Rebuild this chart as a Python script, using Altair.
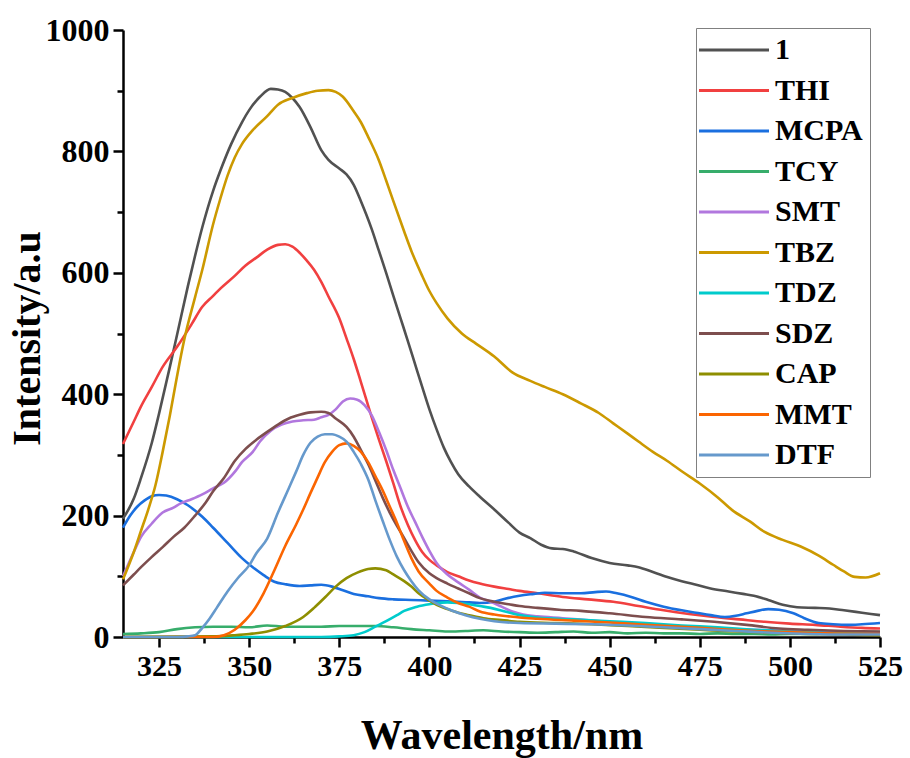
import altair as alt
import pandas as pd

SERIES = ["1", "THI", "MCPA", "TCY", "SMT", "TBZ", "TDZ", "SDZ", "CAP", "MMT", "DTF"]
COLORS = ["#515151", "#F14040", "#1A6FDF", "#37AD6B", "#B177DE", "#CC9900",
          "#00CBCC", "#7D4E4E", "#8E8E00", "#FB6501", "#6699CC"]

S1_X = [315, 318, 320, 323, 325, 328, 330, 333, 335, 337, 340, 342, 345, 348, 350, 353, 356, 358, 360, 362, 364, 367, 370, 372, 375, 377, 379, 381, 384, 386, 388, 390, 392, 394, 396, 398, 400, 402, 404, 406, 408, 411, 414, 418, 422, 425, 428, 431, 434, 437, 440, 445, 450, 455, 458, 462, 466, 470, 474, 478, 483, 487, 490, 494, 498, 502, 507, 511, 515, 520, 525]
S1_Y = [195, 228, 262, 320, 368, 445, 498, 578, 628, 675, 735, 768, 812, 848, 868, 890, 903, 902, 898, 888, 873, 840, 802, 786, 772, 762, 745, 718, 672, 636, 600, 562, 525, 488, 450, 412, 375, 342, 312, 288, 268, 248, 231, 210, 188, 172, 163, 152, 146, 145, 141, 130, 122, 118, 115, 107, 99, 92, 86, 80, 75, 71, 68, 61, 53, 49, 48, 47, 44, 40, 36]

THI_X = [315, 318, 320, 323, 326, 330, 334, 337, 340, 342, 346, 349, 352, 355, 358, 360, 362, 364, 366, 368, 370, 372, 375, 377, 379, 381, 384, 386, 388, 390, 392, 394, 396, 398, 400, 402, 405, 408, 411, 414, 418, 422, 425, 430, 437, 444, 451, 458, 465, 472, 479, 486, 493, 500, 507, 514, 520, 525]
THI_Y = [318, 355, 380, 412, 445, 478, 515, 544, 562, 574, 595, 612, 625, 638, 646, 647, 643, 633, 620, 605, 585, 561, 525, 492, 458, 420, 362, 325, 290, 253, 215, 185, 160, 140, 127, 118, 107, 100, 93, 88, 83, 79, 76, 72, 66, 62, 58, 51, 44, 38, 33, 29, 25, 22, 20, 17, 15, 14]

MCPA_X = [315, 317, 319, 321, 323, 325, 327, 330, 333, 337, 340, 344, 348, 351, 354, 357, 360, 364, 367, 370, 373, 376, 379, 383, 386, 390, 395, 400, 405, 411, 414, 418, 421, 425, 429, 432, 437, 442, 446, 449, 452, 456, 460, 465, 470, 474, 478, 482, 485, 488, 491, 494, 497, 501, 504, 508, 512, 516, 520, 525]
MCPA_Y = [180, 200, 215, 225, 232, 234, 233, 227, 217, 198, 180, 155, 130, 115, 102, 91, 87, 84, 85, 86, 83, 77, 71, 67, 64, 62, 61, 60, 59, 57, 56, 58, 63, 68, 71, 73, 72, 72, 74, 75, 72, 66, 58, 50, 44, 40, 36, 33, 35, 39, 43, 46, 45, 39, 31, 23, 21, 20, 21, 23]

TCY_X = [315, 320, 325, 330, 335, 340, 345, 350, 355, 360, 365, 370, 375, 380, 385, 390, 395, 400, 405, 410, 415, 420, 425, 430, 435, 440, 445, 450, 455, 460, 465, 470, 475, 480, 485, 490, 495, 500, 505, 510, 515, 520, 525]
TCY_Y = [5, 6, 8, 13, 16, 17, 17, 16, 19, 17, 17, 17, 18, 18, 18, 16, 13, 11, 9, 10, 11, 9, 8, 7, 8, 9, 7, 8, 6, 7, 6, 6, 5, 6, 5, 5, 4, 5, 5, 6, 7, 8, 8]

SMT_X = [315, 318, 320, 323, 326, 329, 331, 334, 337, 340, 343, 346, 348, 351, 353, 356, 359, 362, 365, 368, 370, 372, 374, 376, 378, 380, 382, 384, 386, 388, 390, 392, 394, 396, 398, 400, 402, 405, 408, 411, 414, 417, 420, 423, 426, 430, 437, 445, 452, 460, 470, 480, 490, 500, 510, 525]
SMT_Y = [100, 140, 165, 187, 205, 213, 220, 227, 235, 245, 254, 272, 288, 305, 322, 340, 350, 355, 357, 358, 362, 366, 375, 388, 393, 391, 382, 365, 338, 308, 275, 245, 215, 190, 165, 142, 122, 103, 90, 78, 65, 58, 50, 42, 37, 34, 31, 27, 24, 21, 17, 14, 12, 10, 8, 6]

TBZ_X = [315, 318, 320, 322, 324, 326, 328, 330, 332, 335, 337, 340, 342, 344, 346, 348, 351, 355, 358, 362, 366, 369, 372, 374, 376, 379, 381, 383, 386, 388, 390, 393, 395, 398, 400, 402, 405, 409, 413, 418, 423, 428, 432, 437, 442, 447, 451, 455, 458, 462, 466, 470, 475, 480, 484, 489, 493, 498, 503, 508, 512, 515, 518, 521, 525]
TBZ_Y = [95, 140, 175, 210, 250, 305, 365, 430, 490, 560, 605, 680, 722, 760, 790, 812, 835, 858, 877, 888, 896, 900, 901, 898, 890, 866, 848, 824, 785, 752, 718, 668, 636, 595, 570, 550, 525, 500, 483, 462, 436, 422, 412, 400, 385, 369, 352, 335, 322, 305, 290, 273, 253, 230, 209, 190, 173, 160, 149, 134, 119, 108, 99, 98, 105]

TDZ_X = [315, 370, 375, 379, 382, 385, 388, 391, 393, 396, 399, 402, 405, 408, 411, 414, 417, 421, 425, 430, 440, 450, 460, 470, 480, 490, 500, 510, 525]
TDZ_Y = [0, 0, 1, 3, 8, 17, 26, 36, 43, 49, 53, 56, 57, 56, 54, 51, 48, 42, 36, 32, 29, 26, 23, 19, 16, 12, 9, 7, 5]

SDZ_X = [315, 318, 320, 323, 326, 329, 332, 335, 338, 340, 343, 346, 349, 352, 355, 358, 361, 364, 367, 370, 372, 374, 377, 379, 381, 383, 385, 387, 389, 391, 393, 395, 397, 400, 402, 405, 408, 411, 414, 418, 422, 425, 430, 436, 442, 450, 460, 470, 479, 488, 497, 505, 515, 525]
SDZ_Y = [85, 103, 115, 132, 148, 165, 180, 200, 222, 240, 262, 290, 310, 325, 338, 350, 360, 366, 370, 371, 369, 360, 346, 330, 308, 285, 258, 230, 205, 183, 163, 142, 123, 105, 97, 88, 80, 72, 64, 58, 54, 51, 48, 45, 43, 39, 33, 29, 25, 20, 14, 12, 10, 9]

CAP_X = [315, 340, 346, 350, 355, 360, 365, 368, 371, 374, 377, 380, 383, 385, 388, 390, 393, 395, 397, 400, 402, 405, 408, 411, 415, 420, 425, 435, 445, 455, 465, 475, 485, 495, 505, 515, 525]
CAP_Y = [0, 1, 3, 5, 9, 18, 33, 48, 65, 83, 97, 106, 112, 113, 110, 103, 92, 83, 72, 60, 53, 46, 40, 36, 31, 28, 25, 23, 21, 18, 15, 12, 9, 7, 5, 4, 3]

MMT_X = [315, 340, 343, 346, 349, 351, 354, 357, 360, 363, 365, 367, 369, 371, 373, 375, 377, 379, 381, 383, 385, 387, 389, 391, 393, 395, 397, 400, 402, 405, 408, 411, 414, 418, 422, 425, 430, 440, 450, 460, 470, 480, 490, 500, 510, 525]
MMT_Y = [0, 0, 3, 12, 28, 42, 72, 110, 150, 185, 210, 237, 263, 288, 305, 316, 319, 315, 305, 288, 265, 242, 215, 188, 158, 130, 108, 88, 76, 65, 56, 50, 42, 37, 34, 32, 30, 27, 24, 20, 17, 13, 10, 8, 6, 5]

DTF_X = [315, 330, 333, 335, 337, 339, 341, 344, 347, 350, 352, 355, 358, 361, 363, 365, 367, 369, 371, 373, 375, 377, 379, 381, 383, 385, 387, 389, 391, 393, 395, 397, 400, 403, 406, 410, 414, 418, 425, 435, 445, 455, 465, 475, 485, 495, 505, 515, 525]
DTF_Y = [0, 0, 1, 3, 15, 30, 48, 75, 98, 118, 138, 162, 205, 245, 272, 300, 320, 330, 334, 334, 330, 322, 305, 285, 260, 225, 192, 160, 132, 110, 92, 77, 62, 52, 44, 36, 30, 26, 23, 22, 21, 19, 16, 13, 10, 7, 5, 4, 4]

X_TICKS = [325, 337.5, 350, 362.5, 375, 387.5, 400, 412.5, 425, 437.5, 450, 462.5, 475, 487.5, 500, 512.5, 525]
Y_TICKS = [0, 100, 200, 300, 400, 500, 600, 700, 800, 900, 1000]

pairs = [(S1_X, S1_Y), (THI_X, THI_Y), (MCPA_X, MCPA_Y), (TCY_X, TCY_Y), (SMT_X, SMT_Y),
         (TBZ_X, TBZ_Y), (TDZ_X, TDZ_Y), (SDZ_X, SDZ_Y), (CAP_X, CAP_Y), (MMT_X, MMT_Y),
         (DTF_X, DTF_Y)]
rows = []
for order, (name, (xs, ys)) in enumerate(zip(SERIES, pairs)):
    for x, y in zip(xs, ys):
        rows.append({"series": name, "wl": x, "inten": y, "k": order})
df = pd.DataFrame(rows)

FONT = "Liberation Serif"

chart = alt.Chart(df).mark_line(strokeWidth=2.6, interpolate="monotone").encode(
    x=alt.X("wl:Q", scale=alt.Scale(domain=[315, 525], nice=False, zero=False),
            axis=alt.Axis(title="Wavelength/nm", values=X_TICKS,
                          labelExpr="(datum.value - 325) % 25 == 0 ? format(datum.value, 'd') : ''",
                          tickSize={"condition": {"test": "(datum.value - 325) % 25 != 0", "value": 6}, "value": 10},
                          labelFontSize=30, titleFontSize=42, labelPadding=4, titlePadding=34)),
    y=alt.Y("inten:Q", scale=alt.Scale(domain=[0, 1000], nice=False),
            axis=alt.Axis(title="Intensity/a.u", values=Y_TICKS,
                          labelExpr="datum.value % 200 == 0 ? format(datum.value, 'd') : ''",
                          tickSize={"condition": {"test": "datum.value % 200 != 0", "value": 6}, "value": 10},
                          labelFontSize=32, titleFontSize=40, labelPadding=4,
                          titleX=-76, titleY=308, titleAngle=270, titleBaseline="bottom",
                          titleAlign="center")),
    color=alt.Color("series:N", scale=alt.Scale(domain=SERIES, range=COLORS), sort=SERIES,
                    legend=alt.Legend(title=None, orient="none", legendX=573, legendY=-2,
                                      symbolType="M-3.5,0L3.5,0", symbolSize=400,
                                      symbolStrokeWidth=3, symbolOffset=16, labelOffset=26,
                                      rowPadding=10.5, padding=7, strokeColor="#808080",
                                      labelFont=FONT, labelFontWeight="bold", labelFontSize=30,
                                      labelColor="black", labelLimit=300)),
    detail="k:O",
).properties(
    width=757, height=607,
    autosize=alt.AutoSizeParams(type="none"),
    padding={"left": 123, "top": 30, "right": 30, "bottom": 121},
).configure_view(stroke=None).configure_axis(
    grid=False, domainColor="black", domainWidth=2.5, tickColor="black", tickWidth=2.5,
    labelFont=FONT, labelFontWeight="bold", labelColor="black",
    titleFont=FONT, titleFontWeight="bold", titleColor="black", labelOverlap=False,
    labelFlush=False
)

chart.save("out.html", embed_options={"renderer": "svg", "actions": False})
